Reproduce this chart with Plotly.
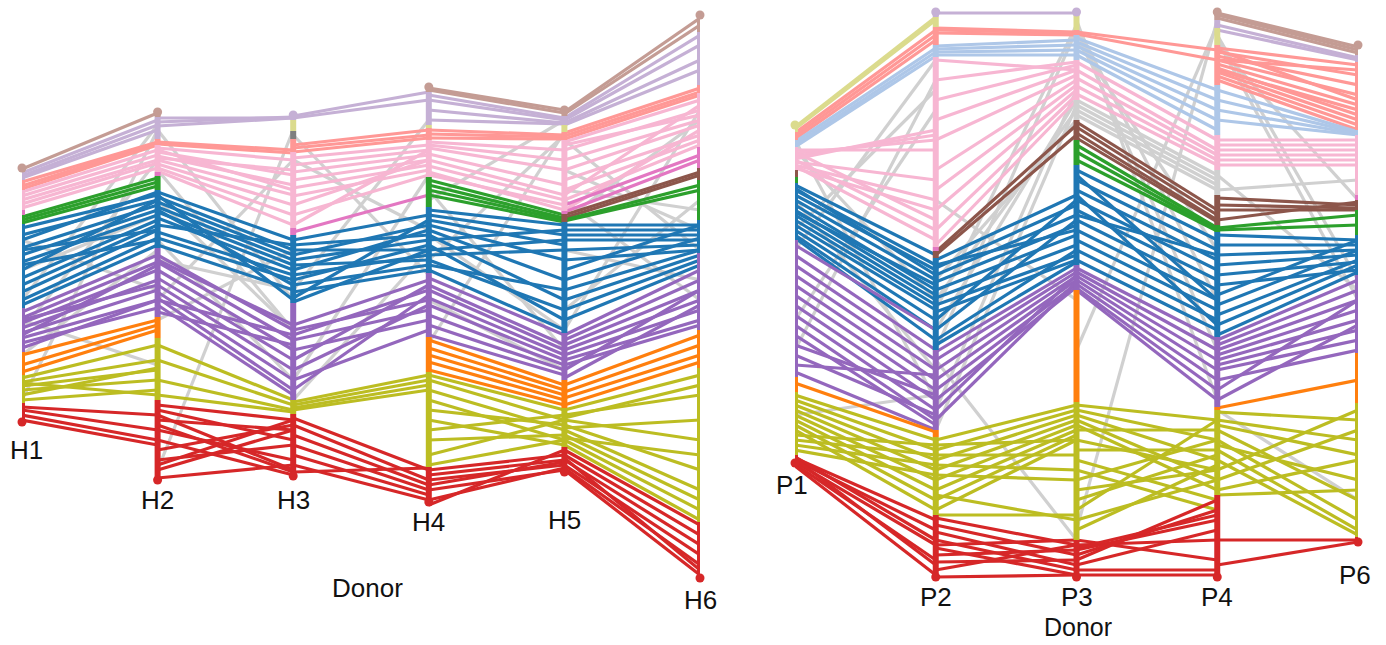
import plotly.graph_objects as go

# ---------------- data ----------------
H_DONORS = ["H1", "H2", "H3", "H4", "H5", "H6"]
P_DONORS = ["P1", "P2", "P3", "P4", "P6"]

# cluster segments on each donor axis: (cluster, top, bottom) in rank-position units
H_SEGMENTS = [
    [("rosy", 168, 172), ("lavender", 172, 180), ("salmon", 180, 190), ("pink", 190, 210), ("orchid", 210, 215),
     ("green", 215, 224), ("blue", 224, 308), ("purple", 308, 352), ("orange", 352, 375), ("olive", 375, 403), ("red", 403, 422)],
    [("rosy", 112, 117), ("lavender", 117, 139), ("salmon", 139, 145), ("pink", 145, 172), ("orchid", 172, 176),
     ("green", 176, 190), ("blue", 190, 248), ("purple", 248, 317), ("orange", 317, 338), ("olive", 338, 400), ("red", 400, 480)],
    [("lavender", 115, 120), ("khaki", 120, 131), ("dgray", 131, 139), ("salmon", 139, 152), ("pink", 152, 228),
     ("orchid", 228, 235), ("blue", 235, 303), ("purple", 303, 400), ("olive", 400, 414), ("red", 414, 476)],
    [("rosy", 87, 92), ("lavender", 92, 125), ("khaki", 125, 128), ("salmon", 128, 140), ("pink", 140, 177),
     ("green", 177, 207), ("blue", 207, 273), ("purple", 273, 337), ("orange", 337, 372), ("olive", 372, 467), ("red", 467, 502)],
    [("rosy", 110, 116), ("lavender", 116, 125), ("khaki", 125, 132), ("salmon", 132, 140), ("pink", 140, 211),
     ("orchid", 211, 214), ("brown", 214, 222), ("blue", 222, 333), ("purple", 333, 380), ("orange", 380, 408),
     ("olive", 408, 447), ("red", 447, 472)],
    [("rosy", 15, 32), ("lavender", 32, 85), ("salmon", 85, 93), ("pink", 93, 147), ("orchid", 147, 168),
     ("brown", 168, 180), ("green", 180, 220), ("blue", 220, 253), ("purple", 253, 330), ("orange", 330, 368),
     ("olive", 368, 522), ("red", 522, 578)],
]

P_SEGMENTS = [
    [("khaki", 125, 132), ("salmon", 132, 140), ("lightblue", 140, 147), ("pink", 147, 170), ("brown", 170, 177),
     ("green", 177, 183), ("blue", 183, 240), ("purple", 240, 377), ("orange", 377, 392), ("olive", 392, 455), ("red", 455, 463)],
    [("lavender", 12, 17), ("khaki", 17, 27), ("salmon", 27, 45), ("lightblue", 45, 57), ("pink", 57, 247),
     ("orchid", 247, 251), ("brown", 251, 258), ("blue", 258, 350), ("purple", 350, 430), ("orange", 430, 437),
     ("olive", 437, 515), ("red", 515, 577)],
    [("lavender", 12, 15), ("khaki", 15, 30), ("salmon", 30, 35), ("lightblue", 35, 60), ("pink", 60, 100),
     ("gray", 100, 120), ("brown", 120, 140), ("green", 140, 165), ("blue", 165, 265), ("purple", 265, 290),
     ("orange", 290, 402), ("olive", 402, 540), ("red", 540, 577)],
    [("rosy", 12, 20), ("lavender", 20, 28), ("khaki", 28, 45), ("salmon", 45, 85), ("lightblue", 85, 135),
     ("pink", 135, 170), ("gray", 170, 195), ("brown", 195, 225), ("green", 225, 232), ("blue", 232, 337),
     ("purple", 337, 407), ("orange", 407, 410), ("olive", 410, 495), ("red", 495, 577)],
    [("rosy", 45, 55), ("lavender", 55, 62), ("salmon", 62, 130), ("lightblue", 130, 135), ("pink", 135, 195),
     ("orchid", 195, 200), ("brown", 200, 210), ("green", 210, 235), ("blue", 235, 275), ("purple", 275, 353),
     ("orange", 353, 403), ("olive", 403, 537), ("red", 537, 542)],
]

# clone links between neighbouring donors: cluster -> [(position on left donor, position on right donor)]
H_LINKS = [
    {  # H1 -> H2
        "gray": [(400, 130), (300, 125), (330, 160), (240, 290), (320, 365), (270, 215), (355, 250)],
        "rosy": [(169, 113)],
        "lavender": [(173, 120), (176, 125), (178, 130)],
        "salmon": [(182, 142), (186, 143), (189, 145)],
        "pink": [(192, 150), (196, 155), (200, 160), (204, 163), (208, 168)],
        "green": [(217, 178), (220, 182), (223, 186)],
        "blue": [(228, 195), (235, 200), (240, 192), (248, 205), (255, 210), (262, 215), (270, 200), (278, 220),
                 (285, 225), (292, 230), (300, 238), (305, 245), (250, 230), (265, 240)],
        "purple": [(312, 255), (318, 262), (323, 270), (328, 280), (333, 290), (338, 300), (343, 308), (348, 300),
                   (320, 285), (335, 265)],
        "orange": [(355, 320), (365, 325), (372, 330)],
        "olive": [(378, 345), (382, 360), (386, 370), (390, 380), (395, 368), (400, 390), (383, 395)],
        "red": [(407, 415), (410, 430), (415, 440), (420, 445)],
    },
    {  # H2 -> H3
        "gray": [(130, 300), (170, 330), (470, 130), (300, 160), (260, 290), (240, 380), (320, 250), (200, 330)],
        "lavender": [(118, 118), (122, 117), (126, 118)],
        "salmon": [(142, 150), (144, 153)],
        "pink": [(148, 160), (152, 175), (156, 185), (160, 195), (164, 205), (168, 215), (171, 225), (150, 190), (158, 170)],
        "blue": [(192, 240), (197, 250), (202, 255), (207, 260), (212, 265), (218, 270), (225, 245), (232, 275),
                 (238, 280), (245, 290), (195, 300), (210, 285)],
        "purple": [(255, 330), (262, 340), (270, 350), (278, 360), (285, 370), (292, 380), (298, 390), (305, 395),
                   (312, 345), (260, 325), (300, 335)],
        "olive": [(345, 400), (360, 405), (380, 410), (395, 412)],
        "red": [(405, 420), (410, 440), (415, 470), (420, 430), (430, 460), (440, 475), (450, 425), (460, 445),
                (470, 430), (478, 465), (425, 472), (465, 420)],
    },
    {  # H3 -> H4
        "gray": [(135, 275), (290, 120), (400, 250), (380, 175), (160, 230)],
        "lavender": [(116, 92), (118, 100)],
        "salmon": [(145, 130), (148, 135), (152, 138)],
        "pink": [(158, 145), (165, 150), (172, 155), (180, 160), (188, 165), (196, 170), (205, 160), (215, 175), (225, 150)],
        "orchid": [(232, 195)],
        "blue": [(240, 215), (245, 235), (250, 250), (255, 225), (260, 240), (265, 260), (270, 230), (275, 255),
                 (280, 245), (285, 265), (292, 270), (298, 220), (302, 250)],
        "purple": [(325, 280), (330, 300), (335, 290), (340, 310), (350, 320), (360, 285), (370, 305), (380, 330), (390, 295)],
        "olive": [(402, 375), (405, 380), (408, 385), (410, 390)],
        "red": [(418, 470), (425, 480), (435, 485), (445, 490), (455, 495), (465, 500), (472, 468)],
    },
    {  # H4 -> H5
        "gray": [(200, 120), (343, 132), (235, 330), (300, 370), (260, 135), (190, 350)],
        "rosy": [(88, 110), (90, 113)],
        "lavender": [(95, 118), (100, 120), (110, 123), (120, 124)],
        "salmon": [(130, 135), (134, 137), (138, 139)],
        "pink": [(142, 150), (148, 170), (154, 185), (160, 195), (166, 200), (172, 210), (145, 160), (175, 205)],
        "green": [(180, 215), (185, 218), (190, 220), (195, 222)],
        "blue": [(210, 225), (215, 235), (220, 245), (225, 260), (230, 280), (235, 300), (240, 230), (245, 320),
                 (250, 240), (255, 250), (260, 310), (265, 290), (270, 330)],
        "purple": [(278, 335), (285, 345), (290, 350), (298, 355), (305, 360), (315, 365), (325, 370), (335, 375)],
        "orange": [(340, 385), (348, 390), (355, 395), (362, 400), (370, 405)],
        "olive": [(375, 410), (380, 420), (390, 430), (400, 440), (410, 425), (420, 445), (430, 415), (440, 435),
                  (455, 420), (465, 440)],
        "red": [(470, 455), (475, 460), (480, 465), (490, 470), (500, 468), (505, 450), (485, 462)],
    },
    {  # H5 -> H6
        "gray": [(140, 250), (220, 120), (200, 300), (330, 110), (250, 280), (310, 200), (170, 230), (190, 210)],
        "rosy": [(112, 18), (114, 25)],
        "lavender": [(118, 35), (120, 45), (123, 60), (125, 70)],
        "salmon": [(133, 88), (136, 92), (139, 95)],
        "pink": [(142, 100), (150, 110), (160, 120), (170, 125), (180, 135), (190, 140), (200, 145), (210, 130),
                 (145, 115), (195, 105)],
        "orchid": [(205, 155), (212, 160)],
        "brown": [(215, 172), (218, 175)],
        "green": [(220, 185), (221, 190)],
        "blue": [(225, 225), (230, 230), (235, 235), (240, 240), (250, 245), (260, 250), (270, 225), (280, 238),
                 (290, 250), (300, 255), (310, 260), (320, 265)],
        "purple": [(335, 270), (340, 280), (345, 290), (350, 300), (355, 310), (360, 320), (365, 325), (370, 290), (378, 305)],
        "orange": [(385, 335), (392, 345), (398, 355), (405, 362)],
        "olive": [(410, 375), (415, 395), (420, 440), (425, 470), (430, 490), (435, 500), (440, 510), (445, 520),
                  (418, 385), (428, 420), (438, 455)],
        "red": [(450, 525), (455, 535), (460, 545), (465, 555), (468, 565), (470, 575), (458, 570)],
    },
]

P_LINKS = [
    {  # P1 -> P2
        "gray": [(140, 400), (250, 60), (350, 80), (200, 370), (230, 90), (320, 110), (150, 300), (415, 395)],
        "khaki": [(127, 17), (129, 20)],
        "salmon": [(133, 30), (136, 35), (139, 40)],
        "lightblue": [(142, 48), (145, 52), (147, 56)],
        "pink": [(150, 150), (153, 140), (156, 135), (159, 130), (162, 180), (165, 200), (168, 210), (152, 220),
                 (160, 230), (166, 240)],
        "blue": [(185, 255), (190, 265), (195, 270), (200, 280), (205, 290), (210, 295), (215, 300), (220, 305),
                 (225, 310), (230, 320), (235, 330), (238, 340), (188, 275), (212, 285)],
        "purple": [(245, 330), (255, 350), (265, 360), (275, 370), (285, 380), (295, 390), (305, 400), (315, 410),
                   (325, 420), (335, 425), (345, 395), (355, 415), (365, 375), (372, 430)],
        "orange": [(383, 432)],
        "olive": [(395, 440), (400, 450), (405, 460), (410, 470), (415, 480), (420, 490), (425, 500), (430, 510),
                  (435, 445), (440, 455), (445, 465), (450, 475)],
        "red": [(458, 520), (460, 530), (462, 545), (464, 560), (466, 575), (457, 540), (459, 565)],
    },
    {  # P2 -> P3
        "gray": [(360, 540), (330, 100), (350, 30), (300, 110), (280, 120), (310, 25), (410, 90), (430, 105), (200, 300)],
        "lavender": [(13, 13)],
        "salmon": [(28, 32), (30, 33), (33, 35)],
        "lightblue": [(46, 40), (49, 45), (52, 50), (55, 55)],
        "pink": [(60, 70), (100, 65), (140, 75), (170, 80), (190, 85), (210, 90), (230, 95), (245, 100), (120, 70), (80, 62)],
        "brown": [(252, 125), (255, 135)],
        "blue": [(260, 195), (268, 205), (275, 215), (282, 225), (290, 235), (298, 245), (305, 255), (312, 260),
                 (320, 200), (330, 220), (340, 250), (345, 262), (265, 230)],
        "purple": [(352, 268), (360, 272), (370, 276), (380, 280), (390, 284), (400, 287), (410, 275), (420, 282)],
        "olive": [(440, 405), (450, 410), (460, 415), (470, 420), (480, 425), (490, 430), (500, 435), (510, 440),
                  (445, 440), (455, 455), (465, 470), (475, 480), (495, 520), (515, 515)],
        "red": [(518, 545), (525, 555), (532, 565), (540, 570), (548, 575), (555, 550), (562, 560), (570, 545),
                (577, 575), (545, 540)],
    },
    {  # P3 -> P4
        "gray": [(100, 175), (105, 180), (110, 185), (115, 190), (20, 400), (25, 300), (30, 350), (530, 20),
                 (350, 25), (40, 250)],
        "salmon": [(32, 50), (34, 60)],
        "lightblue": [(38, 90), (42, 100), (46, 110), (50, 120), (55, 130)],
        "pink": [(62, 140), (70, 150), (78, 155), (86, 160), (94, 165)],
        "brown": [(122, 210), (127, 215), (133, 220), (138, 222)],
        "green": [(145, 228), (152, 230), (160, 231)],
        "blue": [(170, 240), (180, 250), (190, 260), (200, 270), (210, 280), (220, 290), (230, 300), (240, 310),
                 (250, 320), (260, 330), (175, 300), (195, 325), (215, 255)],
        "purple": [(268, 340), (272, 350), (276, 360), (280, 370), (284, 380), (288, 390), (290, 400)],
        "olive": [(405, 420), (410, 440), (415, 460), (420, 480), (425, 490), (430, 430), (440, 470), (450, 450),
                  (460, 500), (470, 510), (480, 440), (490, 470), (500, 455), (510, 420), (520, 480), (530, 465)],
        "red": [(540, 560), (545, 540), (550, 520), (555, 510), (560, 500), (565, 530), (570, 570), (575, 575), (548, 515)],
    },
    {  # P4 -> P6
        "gray": [(35, 280), (40, 300), (410, 500), (45, 200), (190, 180), (175, 290)],
        "rosy": [(13, 47), (15, 50), (18, 53)],
        "lavender": [(25, 58), (30, 60)],
        "salmon": [(48, 65), (52, 75), (56, 85), (60, 95), (64, 105), (68, 115), (72, 120), (76, 125), (80, 130),
                   (50, 100), (60, 70), (70, 110)],
        "lightblue": [(90, 132), (100, 133), (110, 134), (120, 135)],
        "pink": [(140, 140), (145, 145), (150, 150), (155, 155), (160, 160), (165, 165)],
        "brown": [(198, 205), (205, 208), (210, 210), (220, 202)],
        "green": [(228, 215), (230, 225)],
        "blue": [(235, 240), (245, 245), (255, 250), (265, 255), (275, 262), (285, 270), (295, 240), (305, 250),
                 (315, 260), (325, 265), (335, 272)],
        "purple": [(340, 280), (345, 290), (350, 300), (355, 310), (360, 320), (365, 330), (370, 340), (380, 350),
                   (390, 300), (400, 325)],
        "orange": [(408, 380)],
        "olive": [(412, 420), (420, 440), (430, 500), (440, 520), (450, 530), (460, 535), (470, 410), (480, 430),
                  (490, 460), (495, 490), (445, 480), (425, 455)],
        "red": [(540, 540), (565, 542)],
    },
]

# ---------------- styling ----------------
COLORS = {
    "red": "#d62728", "olive": "#bcbd22", "orange": "#ff7f0e", "purple": "#9467bd", "blue": "#1f77b4",
    "green": "#2ca02c", "pink": "#f7b6d2", "orchid": "#e377c2", "salmon": "#ff9896", "lavender": "#c5b0d5",
    "rosy": "#c49c94", "brown": "#8c564b", "khaki": "#dbdb8d", "lightblue": "#aec7e8", "gray": "#d0d0d0",
    "dgray": "#7f7f7f",
}
FONT = "Liberation Sans, Arial, sans-serif"

fig = go.Figure()


def add_panel(donors, segments, links, xref):
    for gi, gap in enumerate(links):
        order = ["gray"] + [k for k in gap if k != "gray"]
        for cl in order:
            if cl not in gap:
                continue
            xs, ys = [], []
            for (a, b) in gap[cl]:
                xs += [gi, gi + 1, None]
                ys += [a, b, None]
            fig.add_trace(go.Scatter(x=xs, y=ys, xaxis=xref, yaxis="y", mode="lines",
                                     line=dict(color=COLORS[cl], width=3.2), hoverinfo="skip",
                                     showlegend=False, cliponaxis=False))
    for di, segs in enumerate(segments):
        for (cl, top, bot) in segs:
            fig.add_trace(go.Scatter(x=[di, di], y=[top, bot], xaxis=xref, yaxis="y", mode="lines",
                                     line=dict(color=COLORS[cl], width=6), hoverinfo="skip",
                                     showlegend=False, cliponaxis=False))
        first, last = segs[0], segs[-1]
        fig.add_trace(go.Scatter(x=[di, di], y=[first[1], last[2]], xaxis=xref, yaxis="y", mode="markers",
                                 marker=dict(color=[COLORS[first[0]], COLORS[last[0]]], size=9),
                                 hoverinfo="skip", showlegend=False, cliponaxis=False))


add_panel(H_DONORS, H_SEGMENTS, H_LINKS, "x")
add_panel(P_DONORS, P_SEGMENTS, P_LINKS, "x2")

# donor labels placed below each axis
H_LABEL_GAP = [28, 20, 24, 20, 48, 22]
H_LABEL_XSHIFT = [4, 0, 0, 0, 0, 0]
P_LABEL_GAP = [22, 20, 20, 20, 33]
P_LABEL_XSHIFT = [-3, 0, 0, 0, -3]
LABEL_FONT = dict(family=FONT, size=26, color="#111")
ann = []
for i, (d, segs) in enumerate(zip(H_DONORS, H_SEGMENTS)):
    ann.append(dict(x=i, y=segs[-1][2] + H_LABEL_GAP[i], xref="x", yref="y", text=d, xshift=H_LABEL_XSHIFT[i],
                    showarrow=False, font=LABEL_FONT, yanchor="middle"))
for i, (d, segs) in enumerate(zip(P_DONORS, P_SEGMENTS)):
    ann.append(dict(x=i, y=segs[-1][2] + P_LABEL_GAP[i], xref="x2", yref="y", text=d, xshift=P_LABEL_XSHIFT[i],
                    showarrow=False, font=LABEL_FONT, yanchor="middle"))
ann.append(dict(x=2.55, y=588, xref="x", yref="y", text="Donor", showarrow=False, font=LABEL_FONT))
ann.append(dict(x=2.01, y=643, xref="x2", yref="y", text="Donor", showarrow=False, yanchor="bottom",
                font=dict(family=FONT, size=25, color="#111")))

W, H = 1386, 645
fig.update_layout(
    width=W, height=H, margin=dict(l=0, r=0, t=0, b=0),
    paper_bgcolor="white", plot_bgcolor="white",
    xaxis=dict(domain=[22 / W, 700 / W], range=[0, 5], visible=False, fixedrange=True),
    xaxis2=dict(domain=[795 / W, 1358 / W], range=[0, 4], visible=False, anchor="y", fixedrange=True),
    yaxis=dict(range=[H, 0], domain=[0, 1], visible=False, fixedrange=True),
    annotations=ann,
)

fig.write_html("out.html")
